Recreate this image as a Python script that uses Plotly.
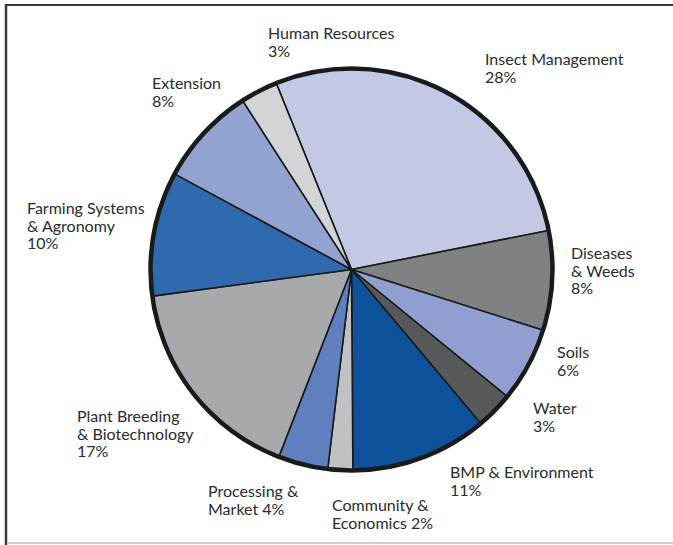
import plotly.graph_objects as go

# Share of research funding by program area
areas = [
    "Insect Management", "Diseases & Weeds", "Soils", "Water",
    "BMP & Environment", "Community & Economics", "Processing & Market",
    "Plant Breeding & Biotechnology", "Farming Systems & Agronomy",
    "Extension", "Human Resources",
]
shares = [28, 8, 6, 3, 11, 2, 4, 17, 10, 8, 3]
label_lines = [
    ["Insect Management", "28%"],
    ["Diseases", "& Weeds", "8%"],
    ["Soils", "6%"],
    ["Water", "3%"],
    ["BMP & Environment", "11%"],
    ["Community &", "Economics 2%"],
    ["Processing &", "Market 4%"],
    ["Plant Breeding", "& Biotechnology", "17%"],
    ["Farming Systems", "& Agronomy", "10%"],
    ["Extension", "8%"],
    ["Human Resources", "3%"],
]
colors = [
    "#c3c9e4", "#808184", "#919fd0", "#58595b", "#0d529b", "#bfc1c3",
    "#5f7fbf", "#a7a9ac", "#2f69ae", "#93a3d1", "#d3d4d6",
]

W, H = 673, 545
cx, cy, r = 351.5, 269.5, 201  # pie centre and radius in pixels
GLYPH_SIZE = 16                # drawn size of the label text
LEAD_SIZE = 13.5               # base size; sets line spacing (1.3 x size)

# label anchor points (left edge, cap top of first line) in pixels
label_pos = [
    (484, 53), (570, 247), (556, 346), (532, 402), (449, 466), (331, 499),
    (207, 485), (76, 410), (26, 202), (151, 78), (267, 28),
]

fig = go.Figure(go.Pie(
    labels=areas,
    values=shares,
    sort=False,
    direction="clockwise",
    rotation=-22,
    marker=dict(colors=colors, line=dict(color="#1a1a1a", width=1.6)),
    textinfo="none",
    hoverinfo="label+percent",
    showlegend=False,
    domain=dict(
        x=[(cx - r) / W, (cx + r) / W],
        y=[(H - cy - r) / H, (H - cy + r) / H],
    ),
))

annotations = []
for lines, (px, py) in zip(label_lines, label_pos):
    text = "<br>".join(
        f"<span style='font-size:{GLYPH_SIZE}px'>{line}</span>" for line in lines
    )
    annotations.append(dict(
        text=text,
        x=px / W, y=1 - (py - 5.5) / H,
        xref="paper", yref="paper",
        xanchor="left", yanchor="top",
        align="left", showarrow=False,
        font=dict(family="Lato", size=LEAD_SIZE, color="#2b2b2b"),
        borderpad=0,
    ))

shapes = [
    # heavy outer rim of the pie
    dict(type="circle", xref="paper", yref="paper",
         x0=(cx - r) / W, x1=(cx + r) / W,
         y0=(H - cy - r) / H, y1=(H - cy + r) / H,
         line=dict(color="#1a1a1a", width=4.5)),
    # frame
    dict(type="line", xref="paper", yref="paper",
         x0=6 / W, x1=1, y0=1 - 5 / H, y1=1 - 5 / H,
         line=dict(color="#3a3a3a", width=2)),
    dict(type="line", xref="paper", yref="paper",
         x0=6 / W, x1=6 / W, y0=0, y1=1 - 4 / H,
         line=dict(color="#3a3a3a", width=2.5)),
    dict(type="line", xref="paper", yref="paper",
         x0=7 / W, x1=1, y0=1 - 543 / H, y1=1 - 543 / H,
         line=dict(color="#cfcfcf", width=2)),
]

fig.update_layout(
    width=W, height=H,
    margin=dict(l=0, r=0, t=0, b=0),
    paper_bgcolor="white",
    plot_bgcolor="white",
    annotations=annotations,
    shapes=shapes,
)

fig.write_html("out.html")
